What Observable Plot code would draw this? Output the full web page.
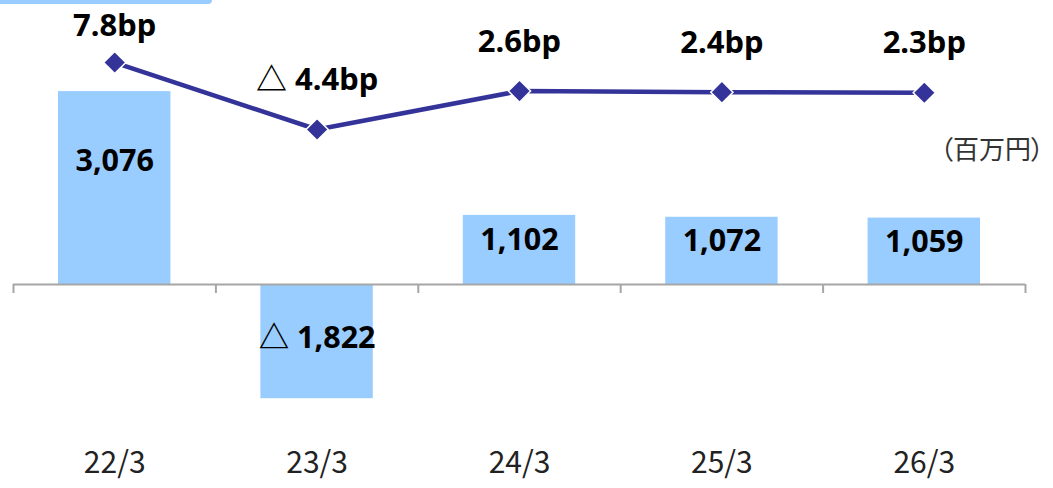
<!DOCTYPE html>
<html><head><meta charset="utf-8">
<script src="https://cdn.jsdelivr.net/npm/d3@7"></script>
<script src="https://cdn.jsdelivr.net/npm/@observablehq/plot@0.6"></script>
<style>
body{margin:0;background:#fff;}
#wrap{position:relative;width:1053px;height:488px;overflow:hidden;}
#tab{position:absolute;left:0;top:0;width:212px;height:4px;background:#99CCFF;border-bottom-right-radius:6px;}
#unit{position:absolute;left:940px;top:135px;font-size:26px;line-height:26px;font-family:"Noto Sans CJK JP",sans-serif;font-feature-settings:"palt";color:#333;white-space:nowrap;}
#chart{position:absolute;left:0;top:0;}
</style></head>
<body><div id="wrap"><div id="chart"></div><div id="tab"></div><div id="unit"></div></div>
<script>
const categories = ["22/3", "23/3", "24/3", "25/3", "26/3"];
const amounts = [3076, -1822, 1102, 1072, 1059];
const bpValues = [7.8, -4.4, 2.6, 2.4, 2.3];
const unitLabel = "（百万円）";

document.getElementById("unit").textContent = unitLabel;

const data = categories.map((c, i) => ({i, cat: c, amount: amounts[i], bp: bpValues[i]}));
const yDomain = [-3254, 4529];
const bpDomain = [-69.8, 19.1];
const bpToY = d3.scaleLinear(bpDomain, yDomain);
const fmt = d3.format(",");
const tri = (v, f) => (v < 0 ? "△ " : "") + f(Math.abs(v));
const cx = d => d.i + 0.5;
const boldFont = '"Noto Sans", "Noto Sans CJK JP", sans-serif';

const chart = Plot.plot({
  width: 1053, height: 488,
  marginTop: 0, marginBottom: 0, marginLeft: 13, marginRight: 28,
  x: {domain: [0, categories.length], axis: null},
  y: {domain: yDomain, axis: null},
  style: {fontFamily: boldFont, background: "transparent", overflow: "visible"},
  marks: [
    Plot.rectY(data, {x1: "i", x2: d => d.i + 1, y1: 0, y2: "amount", fill: "#99CCFF", insetLeft: 45, insetRight: 45}),
    Plot.ruleY([0], {stroke: "#A6A6A6", strokeWidth: 2}),
    Plot.ruleX(d3.range(categories.length + 1), {y1: 0, y2: 0, insetBottom: -9, stroke: "#A6A6A6", strokeWidth: 2}),
    Plot.line(data, {x: cx, y: d => bpToY(d.bp), stroke: "#333399", strokeWidth: 4.5}),
    Plot.dot(data, {x: cx, y: d => bpToY(d.bp), symbol: "diamond2", r: 10, fill: "#333399", stroke: "white", strokeWidth: 1.5}),
    Plot.text(data, {x: cx, y: d => d.amount * (d.amount >= 0 ? 0.64 : 0.47), text: d => tri(d.amount, fmt), fontSize: 30.5, fontWeight: "bold", fill: "#000"}),
    Plot.text(data, {x: cx, y: d => bpToY(Math.min(d.bp + 9, 14.5)), text: d => tri(d.bp, v => v.toFixed(1) + "bp"), fontSize: 31, fontWeight: "bold", fill: "#000"}),
    Plot.text(data, {x: cx, text: "cat", frameAnchor: "bottom", dy: -16, fontSize: 30, fill: "#222", fontFamily: '"Noto Sans CJK JP", sans-serif'})
  ]
});
document.getElementById("chart").appendChild(chart);
</script>
</body></html>
